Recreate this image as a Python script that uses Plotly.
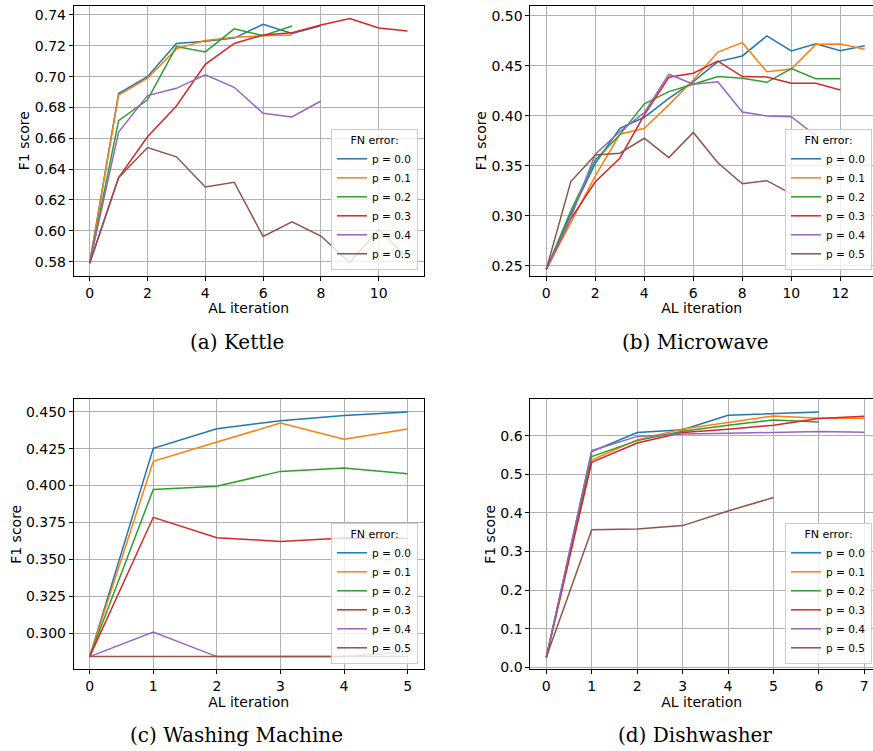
import plotly.graph_objects as go

COLORS = ["#1f77b4", "#ff7f0e", "#2ca02c", "#d62728", "#9467bd", "#8c564b"]
P_LABELS = ["p = 0.0", "p = 0.1", "p = 0.2", "p = 0.3", "p = 0.4", "p = 0.5"]

# (a) Kettle
kettle_p0 = [0.579, 0.689, 0.700, 0.7215, 0.723, 0.725, 0.734, 0.728, 0.733]
kettle_p1 = [0.579, 0.688, 0.699, 0.718, 0.7235, 0.7255, 0.7265, 0.727]
kettle_p2 = [0.579, 0.6715, 0.685, 0.7195, 0.716, 0.731, 0.7265, 0.7328]
kettle_p3 = [0.579, 0.6345, 0.661, 0.681, 0.708, 0.7215, 0.727, 0.7285, 0.7335, 0.7377, 0.7315, 0.7296]
kettle_p4 = [0.579, 0.664, 0.6877, 0.6924, 0.7012, 0.6931, 0.6762, 0.6738, 0.6842]
kettle_p5 = [0.579, 0.6345, 0.654, 0.648, 0.6284, 0.6315, 0.5963, 0.6059, 0.5966, 0.5794, 0.601, 0.5822]

# (b) Microwave
micro_p0 = [0.2464, 0.302, 0.3525, 0.3876, 0.3986, 0.4176, 0.4343, 0.4543, 0.460, 0.480, 0.465, 0.4723, 0.4653, 0.4703]
micro_p1 = [0.2464, 0.294, 0.340, 0.3816, 0.3876, 0.411, 0.436, 0.4639, 0.4733, 0.4442, 0.4469, 0.4716, 0.472, 0.4666]
micro_p2 = [0.2464, 0.305, 0.3558, 0.381, 0.412, 0.4243, 0.4316, 0.4393, 0.4376, 0.4336, 0.4473, 0.4372, 0.4372]
micro_p3 = [0.2464, 0.297, 0.334, 0.3576, 0.401, 0.4387, 0.4427, 0.4549, 0.4393, 0.439, 0.4326, 0.4326, 0.4259]
micro_p4 = [0.2464, 0.298, 0.3616, 0.3843, 0.4033, 0.4417, 0.4316, 0.4342, 0.4039, 0.3999, 0.3992, 0.3802]
micro_p5 = [0.2464, 0.3342, 0.3609, 0.3626, 0.3776, 0.3582, 0.3834, 0.3531, 0.3321, 0.3351, 0.322]

# (c) Washing Machine
wash_p0 = [0.2842, 0.4252, 0.4385, 0.4439, 0.4475, 0.4498]
wash_p1 = [0.2842, 0.4164, 0.4295, 0.4423, 0.4313, 0.4383]
wash_p2 = [0.2842, 0.3974, 0.3995, 0.4096, 0.4119, 0.408]
wash_p3 = [0.2842, 0.3785, 0.3647, 0.3622, 0.3645, 0.3643]
wash_p4 = [0.2842, 0.3009, 0.2842, 0.2842, 0.2842, 0.2875]
wash_p5 = [0.2842, 0.2842, 0.2842, 0.2842, 0.2842, 0.2842]

# (d) Dishwasher
dish_p0 = [0.0259, 0.5587, 0.608, 0.615, 0.6527, 0.657, 0.6613]
dish_p1 = [0.0259, 0.537, 0.589, 0.617, 0.6337, 0.651, 0.645, 0.645]
dish_p2 = [0.0259, 0.546, 0.587, 0.611, 0.6268, 0.6406, 0.6354]
dish_p3 = [0.0259, 0.531, 0.581, 0.608, 0.6164, 0.6268, 0.644, 0.650]
dish_p4 = [0.0259, 0.561, 0.598, 0.604, 0.606, 0.6078, 0.6104, 0.6086]
dish_p5 = [0.0259, 0.356, 0.358, 0.367, 0.405, 0.4396]

panels = [
    ([kettle_p0, kettle_p1, kettle_p2, kettle_p3, kettle_p4, kettle_p5], "x", "y", "legend"),
    ([micro_p0, micro_p1, micro_p2, micro_p3, micro_p4, micro_p5], "x2", "y2", "legend2"),
    ([wash_p0, wash_p1, wash_p2, wash_p3, wash_p4, wash_p5], "x3", "y3", "legend3"),
    ([dish_p0, dish_p1, dish_p2, dish_p3, dish_p4, dish_p5], "x4", "y4", "legend4"),
]

fig = go.Figure()
for series, xa, ya, lg in panels:
    for i, vals in enumerate(series):
        fig.add_trace(go.Scatter(
            x=list(range(len(vals))), y=vals, mode="lines",
            line=dict(color=COLORS[i], width=1.5),
            name=P_LABELS[i], xaxis=xa, yaxis=ya, legend=lg,
        ))

W, H = 873, 751
TICKFONT = dict(family="DejaVu Sans", size=14, color="black")


def xax(domain, rng, dtick, anchor):
    return dict(domain=domain, range=rng, dtick=dtick, tick0=0, anchor=anchor,
                automargin=False,
                showline=True, linecolor="black", linewidth=1, mirror=True,
                showgrid=True, gridcolor="#b0b0b0", gridwidth=1, zeroline=False,
                ticks="outside", ticklen=4, tickcolor="black", tickfont=TICKFONT,
                title=dict(text="AL iteration", font=TICKFONT, standoff=2))


def yax(domain, rng, dtick, tick0, fmt, anchor, mirror):
    return dict(domain=domain, range=rng, dtick=dtick, tick0=tick0, tickformat=fmt,
                anchor=anchor, automargin=False,
                showline=True, linecolor="black", linewidth=1,
                mirror=mirror, showgrid=True, gridcolor="#b0b0b0", gridwidth=1,
                zeroline=False, ticks="outside", ticklen=4, tickcolor="black",
                tickfont=TICKFONT,
                title=dict(text="F1 score", font=TICKFONT, standoff=1))


xl = [73.8 / W, 423.5 / W]
xr = [530.4 / W, 1.0]
yt = [1 - 275.7 / H, 1 - 5.7 / H]
yb = [1 - 669.3 / H, 1 - 399.3 / H]

legend_common = dict(
    bgcolor="rgba(255,255,255,0.8)", bordercolor="#cccccc", borderwidth=1,
    font=dict(family="DejaVu Sans", size=10.5, color="black"),
    title=dict(text="FN error:", side="top center",
               font=dict(family="DejaVu Sans", size=11, color="black")),
    yanchor="bottom", tracegroupgap=0, itemwidth=30,
)

cap_font = dict(family="DejaVu Serif", size=20, color="black")

fig.update_layout(
    width=W, height=H,
    margin=dict(l=0, r=0, t=0, b=0, autoexpand=False),
    paper_bgcolor="white", plot_bgcolor="white",
    xaxis=xax(xl, [-0.55, 11.55], 2, "y"),
    yaxis=yax(yt, [0.5709, 0.7460], 0.02, 0.58, ".2f", "x", True),
    xaxis2=xax(xr, [-0.65, 13.334], 2, "y2"),
    yaxis2=yax(yt, [0.2400, 0.5103], 0.05, 0.25, ".2f", "x2", False),
    xaxis3=xax(xl, [-0.25, 5.25], 1, "y3"),
    yaxis3=yax(yb, [0.2756, 0.4584], 0.025, 0.3, ".3f", "x3", True),
    xaxis4=xax(xr, [-0.35, 7.191], 1, "y4"),
    yaxis4=yax(yb, [-0.005, 0.694], 0.1, 0.0, ".1f", "x4", False),
    legend=dict(legend_common, x=418 / W, xanchor="right", y=1 - 270 / H),
    legend2=dict(legend_common, x=872 / W, xanchor="right", y=1 - 270 / H),
    legend3=dict(legend_common, x=418 / W, xanchor="right", y=1 - 664 / H),
    legend4=dict(legend_common, x=872 / W, xanchor="right", y=1 - 664 / H),
    annotations=[
        dict(text="(a) Kettle", x=237 / W, y=1 - 342 / H, xref="paper", yref="paper",
             showarrow=False, font=cap_font, xanchor="center", yanchor="middle"),
        dict(text="(b) Microwave", x=695 / W, y=1 - 342 / H, xref="paper", yref="paper",
             showarrow=False, font=cap_font, xanchor="center", yanchor="middle"),
        dict(text="(c) Washing Machine", x=237 / W, y=1 - 735 / H, xref="paper", yref="paper",
             showarrow=False, font=cap_font, xanchor="center", yanchor="middle"),
        dict(text="(d) Dishwasher", x=695 / W, y=1 - 735 / H, xref="paper", yref="paper",
             showarrow=False, font=cap_font, xanchor="center", yanchor="middle"),
    ],
)

fig.write_html("out.html")
